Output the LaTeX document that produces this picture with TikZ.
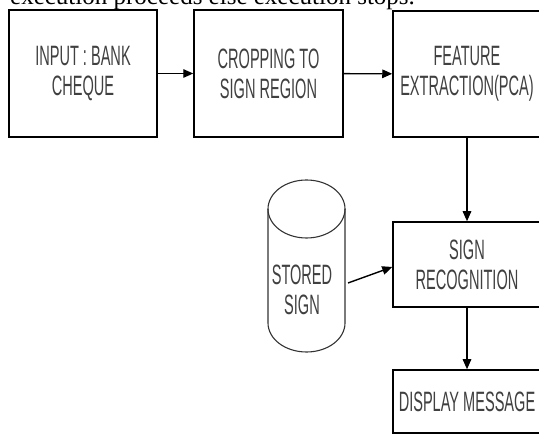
\documentclass[tikz,border=0pt]{standalone}
\usepackage{fontspec}
\setmainfont{Liberation Sans}
\newfontfamily\narrowfont{Liberation Sans}[FakeStretch=0.52]
\newfontfamily\seriffont{Liberation Serif}
\usetikzlibrary{arrows.meta}
\begin{document}
\begin{tikzpicture}[x=1pt,y=-1pt,
  box/.style={draw=black, line width=1.5pt, minimum width=148pt, align=center,
    text=black!75, font=\narrowfont\fontsize{28}{30}\selectfont, inner sep=0pt},
  lbl/.style={text=black!75, font=\narrowfont\fontsize{28}{30}\selectfont, align=center, inner sep=0pt},
  arr/.style={line width=1.4pt, -{Triangle[length=10pt,width=8.5pt]}}]
\useasboundingbox (0,0) rectangle (539,435);
\clip (0,0) rectangle (539,435);
\fill[white] (0,0) rectangle (539,435);
% cut-off line of text at top
\node[anchor=base west, inner sep=0pt, font=\seriffont\fontsize{25}{30}\selectfont] (top) at (10,5) {execution proceeds else execution stops.};
% boxes
\node[box, minimum height=127pt] (input) at (83,73.5) {INPUT : BANK\\CHEQUE};
\node[box, minimum height=127pt, minimum width=149pt] (crop) at (268.5,73.5) {CROPPING TO\\SIGN REGION};
\node[box, minimum height=126pt] (feat) at (467,74) {FEATURE\\EXTRACTION(PCA)};
\node[box, minimum height=85pt] (recog) at (467,264.5) {SIGN\\RECOGNITION};
\node[box, minimum height=63pt] (disp) at (467,401.5) {DISPLAY MESSAGE};
% cylinder
\draw[line width=1.1pt, draw=black!80] (268,209) -- (268,323) arc[start angle=180, end angle=360, x radius=38.5pt, y radius=29pt] -- (345,209);
\draw[line width=1.1pt, draw=black!80] (306.5,209) ellipse [x radius=38.5pt, y radius=29pt];
\node[lbl] (stored) at (302,290) {STORED\\SIGN};
\coordinate (sout) at (348,283);
% connectors
\draw[arr] (input) -- (crop);
\draw[arr] (crop) -- (feat);
\draw[arr] (feat) -- (recog);
\draw[arr] (recog) -- (disp);
\draw[arr] (sout) -- ([yshift=-2.5pt]recog.west);
\end{tikzpicture}
\end{document}
